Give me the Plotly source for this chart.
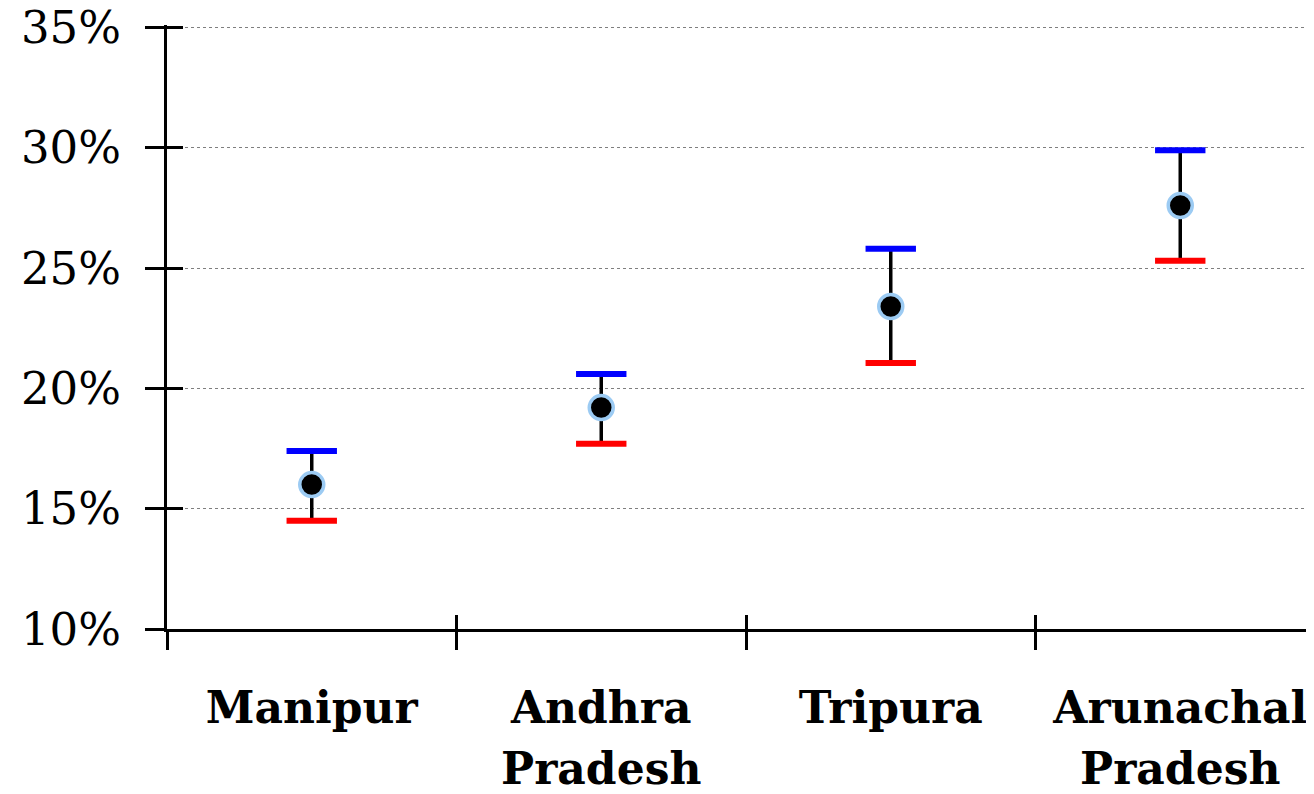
import plotly.graph_objects as go

categories = ["Manipur", "Andhra Pradesh", "Tripura", "Arunachal Pradesh"]
estimate = [16.0, 19.2, 23.4, 27.6]
upper = [17.4, 20.6, 25.8, 29.9]
lower = [14.5, 17.7, 21.05, 25.3]
y_ticks = [10, 15, 20, 25, 30, 35]
y_tick_text = ["10%", "15%", "20%", "25%", "30%", "35%"]

xs = list(range(len(categories)))
boundaries = [i - 0.5 for i in range(len(categories) + 1)]
first_line = [c.split(" ")[0] for c in categories]
second_line = [" ".join(c.split(" ")[1:]) or " " for c in categories]

fig = go.Figure()

# helper traces for overlaid label / tick axes (on grid-free y2), added first
for ax in ["x2", "x3", "x4"]:
    fig.add_trace(go.Scatter(x=xs, y=estimate, xaxis=ax, yaxis="y2", mode="markers",
                             marker=dict(size=0.1, color="rgba(0,0,0,0)"),
                             showlegend=False, hoverinfo="skip"))

# vertical black interval lines
fig.add_trace(go.Scatter(
    x=xs, y=lower, mode="markers", marker=dict(size=0.1, color="rgba(0,0,0,0)"),
    error_y=dict(type="data", symmetric=False,
                 array=[u - l for u, l in zip(upper, lower)],
                 arrayminus=[0] * len(xs), color="black", thickness=3.5, width=0),
    showlegend=False, hoverinfo="skip"))

# upper caps (blue)
fig.add_trace(go.Scatter(
    x=xs, y=upper, mode="markers",
    marker=dict(symbol="line-ew", size=36, line=dict(color="#0000ff", width=6)),
    showlegend=False))
# lower caps (red)
fig.add_trace(go.Scatter(
    x=xs, y=lower, mode="markers",
    marker=dict(symbol="line-ew", size=36, line=dict(color="#ff0000", width=6)),
    showlegend=False))
# point estimates
fig.add_trace(go.Scatter(
    x=xs, y=estimate, mode="markers",
    marker=dict(symbol="circle", size=24, color="black",
                line=dict(color="#9ccbf3", width=3.5)),
    showlegend=False))

W, H = 1306, 786  # page body adds an 8px offset
L, T, B = 159, 17, 165
y_range = [10, 35.1]
xr = [-0.5, -0.5 + (W - L) / 289.5]
font_family = "DejaVu Serif, Liberation Serif, serif"
label_font = dict(size=44, family=font_family, color="black", weight="bold")

fig.update_layout(
    width=W, height=H,
    margin=dict(l=L, r=0, t=T, b=B),
    plot_bgcolor="white", paper_bgcolor="white",
    font=dict(family=font_family, color="black"),
    xaxis=dict(range=xr, tickvals=boundaries, showticklabels=False,
               ticks="outside", ticklen=18, tickwidth=3, tickcolor="black",
               showline=True, linewidth=3, linecolor="black",
               showgrid=False, zeroline=False, automargin=False),
    xaxis2=dict(range=xr, overlaying="x", side="bottom", tickvals=xs,
                ticktext=first_line, ticks="", showgrid=False, zeroline=False,
                showline=False, tickfont=label_font, ticklabeloverflow="allow",
                ticklabelstandoff=49, automargin=False),
    xaxis4=dict(range=xr, overlaying="x", side="bottom", tickvals=xs,
                ticktext=second_line, ticks="", showgrid=False, zeroline=False,
                showline=False, tickfont=label_font, ticklabeloverflow="allow",
                ticklabelstandoff=110, automargin=False),
    xaxis3=dict(range=xr, overlaying="x", tickvals=boundaries, showticklabels=False,
                ticks="inside", ticklen=14, tickwidth=3, tickcolor="black",
                showgrid=False, zeroline=False, showline=False, automargin=False),
    yaxis=dict(range=y_range, tickvals=y_ticks, ticktext=y_tick_text,
               ticks="outside", ticklen=19, tickwidth=3, tickcolor="black",
               showline=True, linewidth=3, linecolor="black",
               showgrid=True, gridcolor="#7f7f7f", gridwidth=1, griddash="dot",
               zeroline=False, tickfont=dict(size=45, family=font_family),
               ticklabelstandoff=15, ticklabeloverflow="allow", automargin=False),
    yaxis2=dict(range=y_range, overlaying="y", tickvals=y_ticks,
                showticklabels=False, ticks="inside", ticklen=16, tickwidth=3,
                tickcolor="black", showgrid=False, zeroline=False, showline=False,
                automargin=False),
)

fig.write_html("out.html")
